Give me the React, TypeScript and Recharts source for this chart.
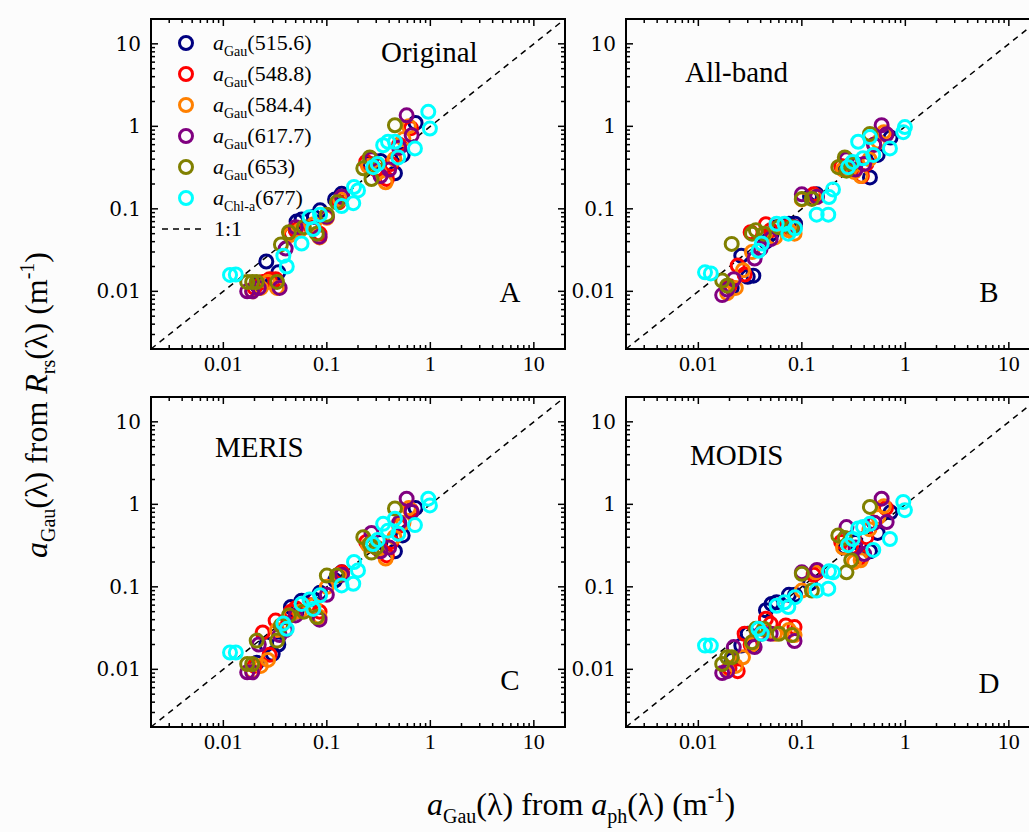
import React from 'react';
import { ScatterChart, Scatter, XAxis, YAxis, ReferenceLine, ReferenceArea } from 'recharts';

// ---------- axis ----------
const DOMAIN: [number, number] = [0.002, 20];
const MAJOR_TICKS = [0.01, 0.1, 1, 10];
const MAJOR_LABELS = ['0.01', '0.1', '1', '10'];
const AXIS_TICKS = [
  0.002, 0.003, 0.004, 0.005, 0.006, 0.007, 0.008, 0.009,
  0.01, 0.02, 0.03, 0.04, 0.05, 0.06, 0.07, 0.08, 0.09,
  0.1, 0.2, 0.3, 0.4, 0.5, 0.6, 0.7, 0.8, 0.9,
  1, 2, 3, 4, 5, 6, 7, 8, 9,
  10, 20,
];

// ---------- series ----------
const SERIES_WAVE = ['515.6', '548.8', '584.4', '617.7', '653', '677'];
const SERIES_SUB = ['Gau', 'Gau', 'Gau', 'Gau', 'Gau', 'Chl-a'];
const SERIES_COLORS = ['#000080', '#FF0000', '#FF8000', '#800080', '#808000', '#00FFFF'];

// a_Gau from a_ph (x, shared by all panels)
const X_515 = [0.021, 0.026, 0.030, 0.034, 0.045, 0.051, 0.057, 0.075, 0.086, 0.12, 0.139, 0.26, 0.33, 0.455, 0.54, 0.72];
const X_548 = [0.02, 0.024, 0.028, 0.032, 0.045, 0.05, 0.07, 0.085, 0.13, 0.14, 0.24, 0.3, 0.38, 0.42, 0.5, 0.65];
const X_584 = [0.019, 0.023, 0.027, 0.033, 0.044, 0.055, 0.075, 0.085, 0.1, 0.135, 0.25, 0.32, 0.37, 0.45, 0.55, 0.62];
const X_617 = [0.017, 0.019, 0.022, 0.035, 0.04, 0.05, 0.085, 0.1, 0.14, 0.27, 0.33, 0.4, 0.5, 0.59, 0.66];
const X_653 = [0.017, 0.019, 0.021, 0.033, 0.036, 0.043, 0.06, 0.08, 0.1, 0.125, 0.225, 0.26, 0.27, 0.3, 0.455];
const X_677 = [0.0116, 0.0132, 0.038, 0.041, 0.057, 0.074, 0.068, 0.086, 0.139, 0.18, 0.183, 0.2, 0.28, 0.31, 0.35, 0.39, 0.455, 0.49, 0.71, 0.955, 0.99];

// a_Gau from Rrs (y) — panel A: Original
const Y_515_ORIGINAL = [0.012, 0.023, 0.013, 0.017, 0.05, 0.07, 0.074, 0.08, 0.096, 0.13, 0.152, 0.35, 0.38, 0.27, 0.45, 1.1];
const Y_548_ORIGINAL = [0.011, 0.013, 0.014, 0.014, 0.05, 0.055, 0.06, 0.05, 0.12, 0.14, 0.37, 0.3, 0.23, 0.35, 0.6, 0.95];
const Y_584_ORIGINAL = [0.010, 0.011, 0.013, 0.011, 0.048, 0.055, 0.065, 0.045, 0.078, 0.13, 0.33, 0.28, 0.21, 0.4, 0.7, 1.0];
const Y_617_ORIGINAL = [0.010, 0.010, 0.011, 0.011, 0.033, 0.06, 0.046, 0.08, 0.14, 0.4, 0.25, 0.3, 0.55, 1.36, 0.78];
const Y_653_ORIGINAL = [0.013, 0.013, 0.013, 0.013, 0.037, 0.052, 0.06, 0.05, 0.085, 0.12, 0.31, 0.42, 0.23, 0.35, 1.03];
const Y_677_ORIGINAL = [0.0158, 0.016, 0.027, 0.020, 0.038, 0.057, 0.079, 0.085, 0.108, 0.117, 0.184, 0.167, 0.32, 0.35, 0.59, 0.65, 0.65, 0.42, 0.54, 1.5, 0.94];

// panel B: All-band
const Y_515_ALLBAND = [0.011, 0.027, 0.015, 0.0155, 0.04, 0.05, 0.06, 0.066, 0.066, 0.14, 0.15, 0.3, 0.35, 0.24, 0.45, 0.73];
const Y_548_ALLBAND = [0.0115, 0.0205, 0.016, 0.052, 0.065, 0.055, 0.06, 0.06, 0.15, 0.14, 0.33, 0.3, 0.25, 0.35, 0.6, 0.8];
const Y_584_ALLBAND = [0.0095, 0.011, 0.018, 0.03, 0.05, 0.045, 0.055, 0.05, 0.13, 0.14, 0.3, 0.28, 0.25, 0.4, 0.65, 0.85];
const Y_617_ALLBAND = [0.009, 0.0105, 0.014, 0.025, 0.033, 0.043, 0.06, 0.15, 0.14, 0.4, 0.3, 0.35, 0.6, 1.03, 0.8];
const Y_653_ALLBAND = [0.0135, 0.0117, 0.0376, 0.05, 0.055, 0.05, 0.06, 0.06, 0.132, 0.132, 0.32, 0.42, 0.29, 0.35, 0.81];
const Y_677_ALLBAND = [0.017, 0.0165, 0.031, 0.038, 0.066, 0.05, 0.066, 0.058, 0.085, 0.085, 0.139, 0.172, 0.32, 0.37, 0.65, 0.41, 0.74, 0.45, 0.54, 0.85, 0.98];

// panel C: MERIS
const Y_515_MERIS = [0.012, 0.02, 0.0154, 0.02, 0.057, 0.05, 0.068, 0.07, 0.085, 0.12, 0.15, 0.33, 0.35, 0.27, 0.42, 0.9];
const Y_548_MERIS = [0.011, 0.028, 0.015, 0.039, 0.05, 0.055, 0.06, 0.05, 0.14, 0.15, 0.35, 0.3, 0.24, 0.35, 0.55, 0.85];
const Y_584_MERIS = [0.0095, 0.011, 0.013, 0.03, 0.045, 0.05, 0.06, 0.043, 0.1, 0.14, 0.32, 0.28, 0.22, 0.4, 0.6, 0.9];
const Y_617_MERIS = [0.0092, 0.0092, 0.02, 0.026, 0.03, 0.045, 0.04, 0.08, 0.14, 0.45, 0.27, 0.3, 0.6, 1.17, 0.81];
const Y_653_MERIS = [0.0116, 0.0116, 0.0223, 0.0223, 0.034, 0.045, 0.05, 0.043, 0.137, 0.137, 0.4, 0.33, 0.26, 0.3, 0.89];
const Y_677_MERIS = [0.016, 0.016, 0.036, 0.031, 0.062, 0.054, 0.07, 0.079, 0.104, 0.109, 0.2, 0.158, 0.33, 0.37, 0.58, 0.48, 0.67, 0.44, 0.56, 1.17, 0.97];

// panel D: MODIS
const Y_515_MODIS = [0.013, 0.0194, 0.027, 0.02, 0.052, 0.062, 0.065, 0.08, 0.08, 0.11, 0.15, 0.3, 0.35, 0.27, 0.45, 0.8];
const Y_548_MODIS = [0.0103, 0.0095, 0.027, 0.02, 0.041, 0.0356, 0.034, 0.0325, 0.14, 0.15, 0.35, 0.3, 0.23, 0.4, 0.6, 0.9];
const Y_584_MODIS = [0.0098, 0.011, 0.014, 0.02, 0.03, 0.027, 0.03, 0.026, 0.09, 0.15, 0.3, 0.2, 0.21, 0.5, 0.7, 0.95];
const Y_617_MODIS = [0.009, 0.0095, 0.0186, 0.0186, 0.027, 0.027, 0.022, 0.15, 0.16, 0.53, 0.3, 0.25, 0.6, 1.17, 0.61];
const Y_653_MODIS = [0.0116, 0.014, 0.014, 0.0213, 0.031, 0.031, 0.027, 0.026, 0.144, 0.09, 0.42, 0.39, 0.15, 0.21, 0.93];
const Y_677_MODIS = [0.0194, 0.0194, 0.031, 0.027, 0.059, 0.057, 0.065, 0.075, 0.09, 0.095, 0.154, 0.15, 0.32, 0.38, 0.51, 0.53, 0.58, 0.28, 0.38, 1.07, 0.85];

const SERIES_X = [X_515, X_548, X_584, X_617, X_653, X_677];
const PANEL_NAMES = ['Original', 'All-band', 'MERIS', 'MODIS'];
const PANEL_LETTERS = ['A', 'B', 'C', 'D'];
const PANEL_Y = [
  [Y_515_ORIGINAL, Y_548_ORIGINAL, Y_584_ORIGINAL, Y_617_ORIGINAL, Y_653_ORIGINAL, Y_677_ORIGINAL],
  [Y_515_ALLBAND, Y_548_ALLBAND, Y_584_ALLBAND, Y_617_ALLBAND, Y_653_ALLBAND, Y_677_ALLBAND],
  [Y_515_MERIS, Y_548_MERIS, Y_584_MERIS, Y_617_MERIS, Y_653_MERIS, Y_677_MERIS],
  [Y_515_MODIS, Y_548_MODIS, Y_584_MODIS, Y_617_MODIS, Y_653_MODIS, Y_677_MODIS],
];

// ---------- layout ----------
const PW = 414;
const PH = 330;
const Y_AXIS_W = 70;
const X_AXIS_H = 30;
const M_TOP = 5;
const M_RIGHT = 5;
const PANEL_POS = [
  { left: 151, top: 19 },
  { left: 626, top: 19 },
  { left: 151, top: 397 },
  { left: 626, top: 397 },
];
const NAME_POS = [
  { x: 381, y: 62 },
  { x: 685, y: 82 },
  { x: 215, y: 457 },
  { x: 690, y: 465 },
];
const LETTER_POS = [
  { x: 510, y: 302 },
  { x: 989, y: 302 },
  { x: 510, y: 690 },
  { x: 989, y: 693 },
];

const SERIF = "'Liberation Serif', 'Times New Roman', serif";
const isMajor = (v: number) => MAJOR_TICKS.some((m) => Math.abs(m - v) < 1e-12);

const makeXTick = (plotH: number) => (props: any) => {
  const { x, y, payload } = props;
  const v = payload.value;
  const major = isMajor(v);
  const len = major ? 7 : 4;
  const idx = MAJOR_TICKS.findIndex((m) => Math.abs(m - v) < 1e-12);
  return (
    <g>
      <line x1={x} y1={y} x2={x} y2={y - len} stroke="#000" strokeWidth={1.5} />
      <line x1={x} y1={y - plotH} x2={x} y2={y - plotH + len} stroke="#000" strokeWidth={1.5} />
      {major && (
        <text x={x} y={y + 22} textAnchor="middle" fontFamily={SERIF} fontSize={22} fill="#000">
          {MAJOR_LABELS[idx]}
        </text>
      )}
    </g>
  );
};

const makeYTick = (plotW: number) => (props: any) => {
  const { x, y, payload } = props;
  const v = payload.value;
  const major = isMajor(v);
  const len = major ? 7 : 4;
  const idx = MAJOR_TICKS.findIndex((m) => Math.abs(m - v) < 1e-12);
  return (
    <g>
      <line x1={x} y1={y} x2={x + len} y2={y} stroke="#000" strokeWidth={1.5} />
      <line x1={x + plotW} y1={y} x2={x + plotW - len} y2={y} stroke="#000" strokeWidth={1.5} />
      {major && (
        <text x={x - 10} y={y + 7} textAnchor="end" fontFamily="'DejaVu Serif', serif" fontSize={20} fill="#000">
          {MAJOR_LABELS[idx]}
        </text>
      )}
    </g>
  );
};

const ringShape = (color: string) => (props: any) => (
  <circle cx={props.cx} cy={props.cy} r={6.5} fill="none" stroke={color} strokeWidth={3} />
);

function Panel({ index }: { index: number }) {
  const pos = PANEL_POS[index];
  const ys = PANEL_Y[index];
  return (
    <div style={{ position: 'absolute', left: pos.left - Y_AXIS_W, top: pos.top - M_TOP }}>
      <ScatterChart
        width={PW + Y_AXIS_W + M_RIGHT}
        height={PH + M_TOP + X_AXIS_H}
        margin={{ top: M_TOP, right: M_RIGHT, bottom: 0, left: 0 }}
        style={{ overflow: 'visible' }}
      >
        <XAxis
          type="number"
          dataKey="x"
          scale="log"
          domain={DOMAIN}
          allowDataOverflow
          ticks={AXIS_TICKS}
          interval={0}
          tickSize={0}
          tickMargin={0}
          axisLine={false}
          tickLine={false}
          height={X_AXIS_H}
          tick={makeXTick(PH)}
        />
        <YAxis
          type="number"
          dataKey="y"
          scale="log"
          domain={DOMAIN}
          allowDataOverflow
          ticks={AXIS_TICKS}
          interval={0}
          tickSize={0}
          tickMargin={0}
          axisLine={false}
          tickLine={false}
          width={Y_AXIS_W}
          tick={makeYTick(PW)}
        />
        <ReferenceArea x1={DOMAIN[0]} x2={DOMAIN[1]} y1={DOMAIN[0]} y2={DOMAIN[1]} fill="none" stroke="#000" strokeWidth={2} />
        <ReferenceLine
          segment={[{ x: DOMAIN[0], y: DOMAIN[0] }, { x: DOMAIN[1], y: DOMAIN[1] }]}
          stroke="#000"
          strokeWidth={1.5}
          strokeDasharray="6 5"
        />
        {SERIES_X.map((xs, s) => (
          <Scatter
            key={s}
            name={SERIES_WAVE[s]}
            data={xs.map((x, i) => ({ x, y: ys[s][i] }))}
            shape={ringShape(SERIES_COLORS[s])}
            isAnimationActive={false}
          />
        ))}
      </ScatterChart>
    </div>
  );
}

export default function App() {
  return (
    <div
      style={{
        position: 'absolute',
        left: 0,
        top: 0,
        width: 1029,
        height: 832,
        overflow: 'hidden',
        background: '#fcfcfc',
      }}
    >
      {PANEL_NAMES.map((_, i) => (
        <Panel key={i} index={i} />
      ))}
      <svg width={1029} height={832} style={{ position: 'absolute', left: 0, top: 0, pointerEvents: 'none' }}>
        {/* legend in panel A */}
        {SERIES_WAVE.map((w, i) => (
          <g key={w}>
            <circle cx={186} cy={43 + 31 * i} r={6.5} fill="none" stroke={SERIES_COLORS[i]} strokeWidth={3} />
            <text x={213} y={50 + 31 * i} fontFamily={SERIF} fontSize={22} fill="#000">
              <tspan fontStyle="italic">a</tspan>
              <tspan fontSize={14} dy={6}>{SERIES_SUB[i]}</tspan>
              <tspan dy={-6}>({w})</tspan>
            </text>
          </g>
        ))}
        <line x1={162} y1={229} x2={204} y2={229} stroke="#000" strokeWidth={1.5} strokeDasharray="6 5" />
        <text x={214} y={236} fontFamily={SERIF} fontSize={22} fill="#000">1:1</text>

        {PANEL_NAMES.map((n, i) => (
          <text key={n} x={NAME_POS[i].x} y={NAME_POS[i].y} fontFamily={SERIF} fontSize={29} fill="#000">
            {n}
          </text>
        ))}
        {PANEL_LETTERS.map((l, i) => (
          <text key={l} x={LETTER_POS[i].x} y={LETTER_POS[i].y} textAnchor="middle" fontFamily={SERIF} fontSize={29} fill="#000">
            {l}
          </text>
        ))}

        {/* y axis title */}
        <text transform="translate(47,405) rotate(-90)" textAnchor="middle" fontFamily={SERIF} fontSize={32} fill="#000">
          <tspan fontStyle="italic">a</tspan>
          <tspan fontSize={20} dy={8}>Gau</tspan>
          <tspan dy={-8}>(λ) from </tspan>
          <tspan fontStyle="italic">R</tspan>
          <tspan fontSize={20} dy={8}>rs</tspan>
          <tspan dy={-8}>(λ)  (m</tspan>
          <tspan fontSize={20} dy={-13}>-1</tspan>
          <tspan dy={13}>)</tspan>
        </text>

        {/* x axis title */}
        <text x={581} y={815} textAnchor="middle" fontFamily={SERIF} fontSize={32} fill="#000">
          <tspan fontStyle="italic">a</tspan>
          <tspan fontSize={20} dy={8}>Gau</tspan>
          <tspan dy={-8}>(λ) from </tspan>
          <tspan fontStyle="italic">a</tspan>
          <tspan fontSize={20} dy={8}>ph</tspan>
          <tspan dy={-8}>(λ) (m</tspan>
          <tspan fontSize={20} dy={-13}>-1</tspan>
          <tspan dy={13}>)</tspan>
        </text>
      </svg>
    </div>
  );
}
